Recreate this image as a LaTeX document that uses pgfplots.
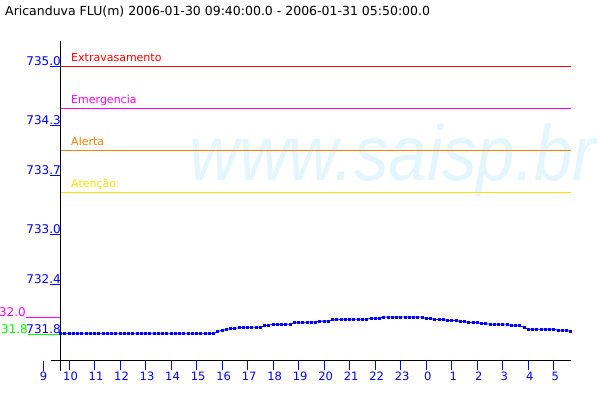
\documentclass[border=0pt]{standalone}
\usepackage{pgfplots}
\pgfplotsset{compat=1.18}
\usepackage{fontspec}
\setmainfont{DejaVu Sans}
\newfontfamily\wmfont{Liberation Sans}
\definecolor{wmblue}{RGB}{227,245,253}
\definecolor{extred}{RGB}{255,0,0}
\definecolor{emgmag}{RGB}{255,0,255}
\definecolor{alertaor}{RGB}{255,128,0}
\definecolor{atencaoy}{RGB}{255,224,0}
\definecolor{lgreen}{RGB}{0,255,0}
\definecolor{pblue}{RGB}{0,0,255}
\pgfplotstableread{
h v
9.6667 731.81
9.8333 731.81
10.0 731.81
10.1667 731.81
10.3333 731.81
10.5 731.81
10.6667 731.81
10.8333 731.81
11.0 731.81
11.1667 731.81
11.3333 731.81
11.5 731.81
11.6667 731.81
11.8333 731.81
12.0 731.81
12.1667 731.81
12.3333 731.81
12.5 731.81
12.6667 731.81
12.8333 731.81
13.0 731.81
13.1667 731.81
13.3333 731.81
13.5 731.81
13.6667 731.81
13.8333 731.81
14.0 731.81
14.1667 731.81
14.3333 731.81
14.5 731.81
14.6667 731.81
14.8333 731.81
15.0 731.81
15.1667 731.81
15.3333 731.81
15.5 731.81
15.6667 731.81
15.8333 731.835
16.0 731.85
16.1667 731.86
16.3333 731.87
16.5 731.875
16.6667 731.88
16.8333 731.887
17.0 731.887
17.1667 731.887
17.3333 731.887
17.5 731.887
17.6667 731.904
17.8333 731.915
18.0 731.92
18.1667 731.92
18.3333 731.92
18.5 731.92
18.6667 731.925
18.8333 731.94
19.0 731.94
19.1667 731.94
19.3333 731.95
19.5 731.95
19.6667 731.95
19.8333 731.96
20.0 731.96
20.1667 731.96
20.3333 731.975
20.5 731.975
20.6667 731.98
20.8333 731.983
21.0 731.983
21.1667 731.983
21.3333 731.983
21.5 731.983
21.6667 731.983
21.8333 731.995
22.0 731.995
22.1667 731.995
22.3333 732.01
22.5 732.01
22.6667 732.01
22.8333 732.01
23.0 732.01
23.1667 732.01
23.3333 732.01
23.5 732.01
23.6667 732.01
23.8333 732.01
24.0 731.99
24.1667 731.99
24.3333 731.98
24.5 731.98
24.6667 731.98
24.8333 731.967
25.0 731.967
25.1667 731.967
25.3333 731.955
25.5 731.955
25.6667 731.943
25.8333 731.943
26.0 731.943
26.1667 731.93
26.3333 731.93
26.5 731.923
26.6667 731.923
26.8333 731.923
27.0 731.923
27.1667 731.923
27.3333 731.904
27.5 731.904
27.6667 731.904
27.8333 731.887
28.0 731.863
28.1667 731.863
28.3333 731.863
28.5 731.863
28.6667 731.863
28.8333 731.863
29.0 731.863
29.1667 731.85
29.3333 731.85
29.5 731.85
29.6667 731.836
}\datatable
\begin{document}
\begin{tikzpicture}
\path[use as bounding box] (0pt,0pt) rectangle (600pt,400pt);
\clip (0pt,0pt) rectangle (600pt,400pt);
\node[anchor=base west, inner sep=0pt, text=wmblue, font=\wmfont\itshape\fontsize{78}{80}\selectfont] at (189pt,220pt) {\scalebox{0.885}[1]{www.saisp.br}};
\node[anchor=base west, inner sep=0pt, font=\fontsize{12.5}{14}\selectfont] at (5pt,384pt) {Aricanduva FLU(m) 2006-01-30 09:40:00.0 - 2006-01-31 05:50:00.0};
\begin{axis}[
  at={(60.5pt,39.5pt)}, anchor=south west,
  scale only axis, width=514.5pt, height=320pt,
  xmin=9.6667, xmax=29.8333, ymin=731.49, ymax=735.31,
  axis line style={draw=none},
  clip=false,
  tick align=outside, major tick length=10pt,
  xtick pos=bottom, ytick pos=left,
  tick style={draw=pblue, line width=1pt},
  xtick={10,11,12,13,14,15,16,17,18,19,20,21,22,23,24,25,26,27,28,29},
  xticklabels={10,11,12,13,14,15,16,17,18,19,20,21,22,23,0,1,2,3,4,5},
  ytick={731.8,732.4,733.0,733.7,734.3,735.0},
  yticklabels={731.8,732.4,733.0,733.7,734.3,735.0},
  xticklabel style={text=pblue, font=\fontsize{11.5}{13}\selectfont, inner sep=1pt, xshift=1.5pt},
  yticklabel style={text=pblue, font=\fontsize{12}{14}\selectfont, anchor=base east, inner sep=0pt, xshift=10.5pt, yshift=1pt},
]
\addplot[color=extred, line width=1pt] coordinates {(9.6667,735.0) (29.66,735.0)};
\addplot[color=emgmag, line width=1pt] coordinates {(9.6667,734.5) (29.66,734.5)};
\addplot[color=alertaor, line width=1pt] coordinates {(9.6667,734.0) (29.66,734.0)};
\addplot[color=atencaoy, line width=1pt] coordinates {(9.6667,733.5) (29.66,733.5)};
\addplot[color=emgmag, line width=1pt] coordinates {(8.315,732.0) (9.6667,732.0)};
\addplot[color=lgreen, line width=1pt] coordinates {(8.39,731.8) (9.6667,731.8)};
\node[anchor=base west, inner sep=0pt, text=extred, font=\fontsize{11}{13}\selectfont, yshift=5pt] at (axis cs:10.08,735.0) {Extravasamento};
\node[anchor=base west, inner sep=0pt, text=emgmag, font=\fontsize{11}{13}\selectfont, yshift=5pt] at (axis cs:10.08,734.5) {Emergencia};
\node[anchor=base west, inner sep=0pt, text=alertaor, font=\fontsize{11}{13}\selectfont, yshift=5pt] at (axis cs:10.08,734.0) {Alerta};
\node[anchor=base west, inner sep=0pt, text=atencaoy, font=\fontsize{11}{13}\selectfont, yshift=5pt] at (axis cs:10.08,733.5) {Atenção};
\node[anchor=base east, inner sep=0pt, text=emgmag, font=\fontsize{12}{14}\selectfont, yshift=1pt] at (axis cs:8.315,732.0) {732.0};
\node[anchor=base east, inner sep=0pt, text=lgreen, font=\fontsize{12}{14}\selectfont, yshift=1pt] at (axis cs:8.39,731.8) {731.8};
\draw[black, line width=1pt] (axis cs:9.6667,735.31) -- (axis cs:9.6667,731.37);
\draw[black, line width=1pt] (axis cs:9.294,731.49) -- (axis cs:29.66,731.49);
\draw[pblue, line width=1pt] (axis cs:9,731.49) -- ++(0pt,-10pt);
\node[anchor=north, text=pblue, inner sep=1pt, font=\fontsize{11.5}{13}\selectfont] at (axis cs:9,731.37) {9};
\addplot[color=pblue, line width=0.8pt, mark=square*, mark size=1pt, mark options={fill=pblue, draw=none}] table[x=h, y=v] {\datatable};
\end{axis}
\end{tikzpicture}
\end{document}
